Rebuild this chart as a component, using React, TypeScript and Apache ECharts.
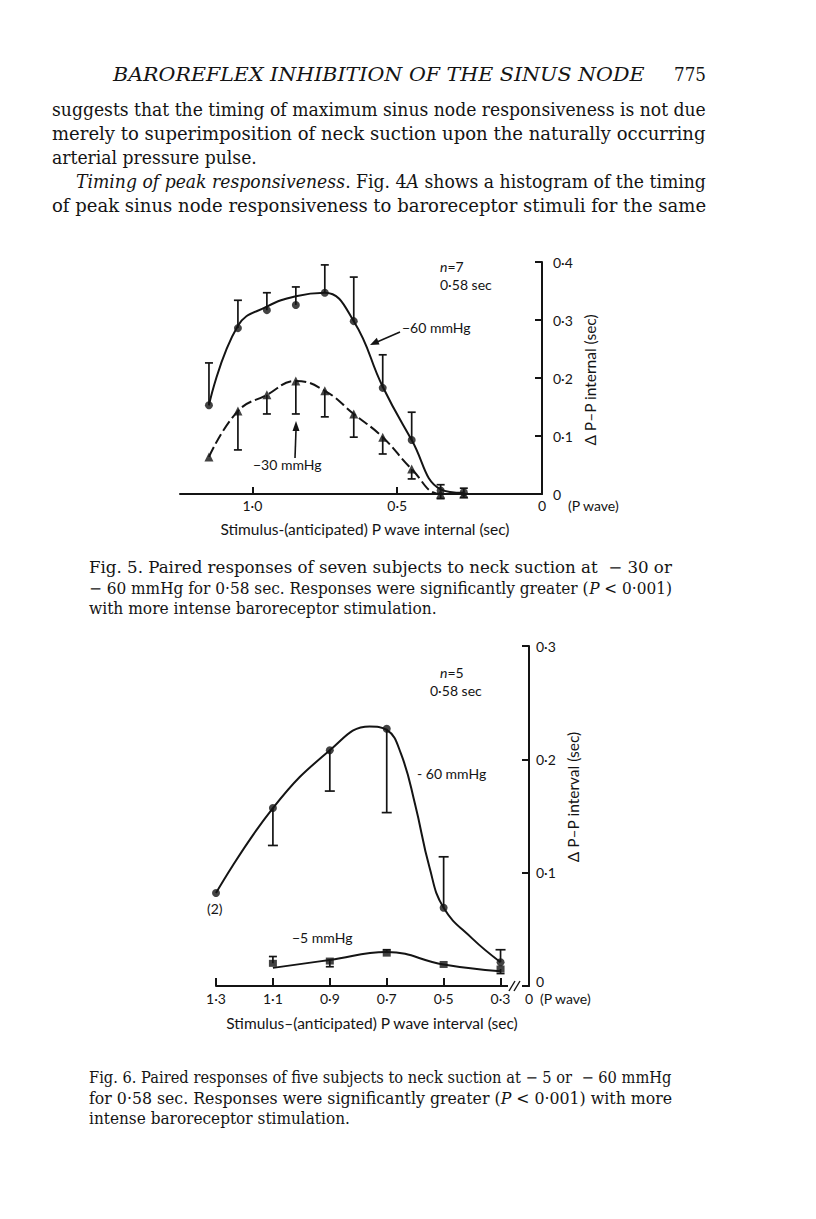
import React, { useEffect, useRef } from "react";
import * as echarts from "echarts";

// ---------- Fig. 5 data (x = stimulus–P wave interval, sec; y = Δ P–P interval, sec) ----------
const fig5X = [1.15, 1.05, 0.95, 0.85, 0.75, 0.65, 0.55, 0.45, 0.35, 0.27];
const fig5Neg60 = [0.153, 0.286, 0.317, 0.326, 0.347, 0.298, 0.183, 0.093, 0.006, 0.003];
const fig5Neg60Curve = [0.153, 0.29, 0.323, 0.341, 0.347, 0.298, 0.185, 0.093, 0.008, 0.002];
const fig5Neg60ErrEnd = [0.226, 0.334, 0.347, 0.357, 0.395, 0.374, 0.24, 0.141, 0.016, 0.01];
const fig5Neg30 = [0.064, 0.143, 0.171, 0.195, 0.178, 0.138, 0.098, 0.043, 0.0, 0.0];
const fig5Neg30ErrEnd = [null, 0.076, 0.138, 0.138, 0.133, 0.098, 0.069, 0.026, -0.008, -0.006];
const fig5XLabels = [0.5, 1.0];
const fig5XTicks = [0.5, 1.0];

// ---------- Fig. 6 data ----------
const fig6X = [1.3, 1.1, 0.9, 0.7, 0.5, 0.3];
const fig6Neg60 = [0.082, 0.157, 0.208, 0.227, 0.069, 0.021];
const fig6Neg60ErrEnd = [null, 0.124, 0.172, 0.153, 0.114, 0.032];
const fig6CurveX = [1.3, 1.1, 0.9, 0.76, 0.7, 0.65, 0.6, 0.55, 0.5, 0.4, 0.3];
const fig6Neg60Curve = [0.082, 0.157, 0.208, 0.229, 0.226, 0.205, 0.16, 0.105, 0.069, 0.042, 0.021];
const fig6X5 = [1.1, 0.9, 0.7, 0.5, 0.3];
const fig6Neg5 = [0.02, 0.022, 0.029, 0.019, 0.015];
const fig6Neg5Curve = [0.016, 0.023, 0.03, 0.019, 0.013];
const fig6Neg5ErrEnd = [0.026, 0.017, 0.032, null, 0.011];
const fig6XLabels = [1.3, 1.1, 0.9, 0.7, 0.5, 0.3, 0.2]; // 0.2 is the broken-axis position of "0"
const fig6XTicks = [1.3, 1.1, 0.9, 0.7, 0.5, 0.3];
const fig6BreakZero = 0.2;

const INK = "#141414";
const SERIF = '"DejaVu Serif", serif';
const SANS = 'Lato, "Open Sans", sans-serif';

type Seg = { t: string; i?: boolean };

let measureCtx: CanvasRenderingContext2D | null = null;
function measure(segs: Seg[], size: number, family: string): number {
  if (!measureCtx) measureCtx = document.createElement("canvas").getContext("2d");
  let w = 0;
  for (const s of segs) {
    measureCtx!.font = `${s.i ? "italic " : ""}${size}px ${family}`;
    w += measureCtx!.measureText(s.t).width;
  }
  return w;
}

function textLine(segs: Seg[], x: number, y: number, size: number, family: string, width?: number) {
  const natural = measure(segs, size, family);
  const sx = width ? width / natural : 1;
  const text = segs.map((s) => `{${s.i ? "i" : "n"}|${s.t}}`).join("");
  return {
    type: "text",
    x,
    y,
    scaleX: sx,
    z: 50,
    silent: true,
    style: {
      text,
      verticalAlign: "middle",
      rich: {
        i: { fontStyle: "italic", fontSize: size, fontFamily: family, fill: INK },
        n: { fontSize: size, fontFamily: family, fill: INK },
      },
    },
  };
}

function label(text: string, x: number, y: number, size = 14, opts: any = {}) {
  return {
    type: "text",
    x,
    y,
    z: 50,
    silent: true,
    rotation: opts.rotation || 0,
    style: {
      text,
      fontSize: size,
      fontFamily: SANS,
      fontStyle: opts.italic ? "italic" : "normal",
      fill: INK,
      align: opts.align || "left",
      verticalAlign: "middle",
      rich: opts.rich,
    },
  };
}

const fmt = (v: number) => (Math.abs(v) < 1e-9 ? "0" : v.toFixed(1).replace(".", "·"));
const fmt6 = (v: number) => (Math.abs(v - fig6BreakZero) < 1e-6 ? "0" : fmt(v));

function zip(xs: number[], ys: (number | null)[]) {
  return xs.map((x, i) => [x, ys[i]]);
}

function errData(xs: number[], vals: number[], ends: (number | null)[]) {
  const out: number[][] = [];
  xs.forEach((x, i) => {
    if (ends[i] !== null && ends[i] !== undefined) out.push([x, vals[i], ends[i] as number]);
  });
  return out;
}

function errSeries(axis: number, data: number[][], cap: number) {
  return {
    type: "custom",
    xAxisIndex: axis,
    yAxisIndex: axis,
    silent: true,
    z: 3,
    data,
    encode: { x: 0, y: [1, 2] },
    renderItem: (params: any, api: any) => {
      const x = api.value(0);
      const p0 = api.coord([x, api.value(1)]);
      const p1 = api.coord([x, api.value(2)]);
      const st = { stroke: INK, lineWidth: 1.7 };
      return {
        type: "group",
        children: [
          { type: "line", shape: { x1: p0[0], y1: p0[1], x2: p1[0], y2: p1[1] }, style: st },
          { type: "line", shape: { x1: p1[0] - cap, y1: p1[1], x2: p1[0] + cap, y2: p1[1] }, style: st },
        ],
      };
    },
  };
}

function curve(axis: number, xs: number[], ys: number[], dashed = false) {
  return {
    type: "line",
    xAxisIndex: axis,
    yAxisIndex: axis,
    data: zip(xs, ys),
    smooth: 0.45,
    showSymbol: false,
    clip: false,
    silent: true,
    z: 2,
    lineStyle: { color: INK, width: 2, type: dashed ? [11, 4] : "solid" },
  };
}

function markers(axis: number, xs: number[], ys: number[], symbol: string, size: any) {
  return {
    type: "scatter",
    xAxisIndex: axis,
    yAxisIndex: axis,
    data: zip(xs, ys),
    symbol,
    symbolSize: size,
    clip: false,
    silent: true,
    z: 4,
    itemStyle: { color: INK },
  };
}

function buildOption(): any {
  const axisLine = { show: true, lineStyle: { color: INK, width: 2 } };
  const labelStyle = { color: INK, fontFamily: SANS, fontSize: 14 };
  const italN = {
    i: { fontStyle: "italic", fontSize: 14, fontFamily: SANS, fill: INK },
    n: { fontSize: 14, fontFamily: SANS, fill: INK },
  };

  const graphic: any[] = [
    // running head
    textLine([{ t: "BAROREFLEX INHIBITION OF THE SINUS NODE", i: true }], 113, 75, 18, SERIF, 532),
    textLine([{ t: "775" }], 674, 75, 18, SERIF, 32),
    // body text
    textLine([{ t: "suggests that the timing of maximum sinus node responsiveness is not due" }], 52, 109, 19, SERIF, 654),
    textLine([{ t: "merely to superimposition of neck suction upon the naturally occurring" }], 52, 133, 19, SERIF, 654),
    textLine([{ t: "arterial pressure pulse." }], 52, 157, 19, SERIF, 205),
    textLine(
      [
        { t: "Timing of peak responsiveness", i: true },
        { t: ". Fig. 4" },
        { t: "A", i: true },
        { t: " shows a histogram of the timing" },
      ],
      76, 181, 19, SERIF, 630
    ),
    textLine([{ t: "of peak sinus node responsiveness to baroreceptor stimuli for the same" }], 52, 205, 19, SERIF, 654),

    // Fig. 5 caption
    textLine([{ t: "Fig. 5. Paired responses of seven subjects to neck suction at  − 30 or" }], 89, 568, 16, SERIF, 583),
    textLine(
      [{ t: "− 60 mmHg for 0·58 sec. Responses were significantly greater (" }, { t: "P", i: true }, { t: " < 0·001)" }],
      89, 588, 16, SERIF, 583
    ),
    textLine([{ t: "with more intense baroreceptor stimulation." }], 89, 608, 16, SERIF, 348),

    // Fig. 6 caption
    textLine([{ t: "Fig. 6. Paired responses of five subjects to neck suction at − 5 or  − 60 mmHg" }], 89, 1078, 16, SERIF, 583),
    textLine(
      [{ t: "for 0·58 sec. Responses were significantly greater (" }, { t: "P", i: true }, { t: " < 0·001) with more" }],
      89, 1098, 16, SERIF, 583
    ),
    textLine([{ t: "intense baroreceptor stimulation." }], 89, 1118, 16, SERIF, 261),

    // ---- Fig. 5 annotations ----
    label("{i|n}{n|=7}", 440, 266, 14, { rich: italN }),
    label("0·58 sec", 440, 284),
    label("−60 mmHg", 402, 327),
    label("−30 mmHg", 253, 464),
    label("0", 542, 505, 14, { align: "center" }),
    label("(P wave)", 568, 505),
    label("Stimulus-(anticipated) P wave internal (sec)", 365, 529, 15.5, { align: "center" }),
    label("Δ P–P internal (sec)", 590, 380, 15.5, { align: "center", rotation: Math.PI / 2 }),
    { type: "line", z: 50, silent: true, shape: { x1: 400, y1: 332, x2: 377, y2: 342 }, style: { stroke: INK, lineWidth: 1.6 } },
    { type: "polygon", z: 50, silent: true, shape: { points: [[370, 345], [379.5, 344.5], [376.8, 337.8]] }, style: { fill: INK } },
    { type: "line", z: 50, silent: true, shape: { x1: 295, y1: 458, x2: 296, y2: 430 }, style: { stroke: INK, lineWidth: 1.6 } },
    { type: "polygon", z: 50, silent: true, shape: { points: [[296, 421], [292.5, 431], [299.5, 431]] }, style: { fill: INK } },

    // ---- Fig. 6 annotations ----
    label("{i|n}{n|=5}", 440, 672, 14, { rich: italN }),
    label("0·58 sec", 430, 690),
    label("- 60 mmHg", 417, 773),
    label("(2)", 207, 908),
    label("−5 mmHg", 292, 937),
    label("0", 536, 981),
    label("(P wave)", 540, 998),
    label("Stimulus–(anticipated) P wave interval (sec)", 372, 1023, 15.5, { align: "center" }),
    label("Δ P–P interval (sec)", 573, 797, 15.5, { align: "center", rotation: Math.PI / 2 }),
    // axis break
    { type: "rect", z: 40, silent: true, shape: { x: 508, y: 980, width: 14, height: 12 }, style: { fill: "#fff" } },
    { type: "line", z: 50, silent: true, shape: { x1: 509, y1: 991, x2: 515, y2: 981 }, style: { stroke: INK, lineWidth: 1.4 } },
    { type: "line", z: 50, silent: true, shape: { x1: 514, y1: 991, x2: 520, y2: 981 }, style: { stroke: INK, lineWidth: 1.4 } },
  ];

  return {
    animation: false,
    backgroundColor: "#ffffff",
    grid: [
      { left: 180, top: 262, width: 362, height: 232 },
      { left: 216, top: 646, width: 313, height: 340 },
    ],
    xAxis: [
      {
        gridIndex: 0,
        type: "value",
        min: 0,
        max: 1.25,
        inverse: true,
        axisLine,
        splitLine: { show: false },
        axisTick: { show: true, inside: true, length: 7, customValues: fig5XTicks, lineStyle: { color: INK, width: 2 } },
        axisLabel: { show: true, customValues: fig5XLabels, formatter: fmt, margin: 4, ...labelStyle },
      },
      {
        gridIndex: 1,
        type: "value",
        min: 0.2,
        max: 1.3,
        inverse: true,
        axisLine,
        splitLine: { show: false },
        axisTick: { show: true, inside: true, length: 8, customValues: fig6XTicks, lineStyle: { color: INK, width: 2 } },
        axisLabel: { show: true, customValues: fig6XLabels, formatter: fmt6, margin: 5, ...labelStyle },
      },
    ],
    yAxis: [
      {
        gridIndex: 0,
        type: "value",
        position: "right",
        min: 0,
        max: 0.4,
        interval: 0.1,
        axisLine,
        splitLine: { show: false },
        axisTick: { show: true, inside: true, length: 7, lineStyle: { color: INK, width: 2 } },
        axisLabel: { formatter: fmt, margin: 11, ...labelStyle },
      },
      {
        gridIndex: 1,
        type: "value",
        position: "right",
        min: 0,
        max: 0.3,
        interval: 0.1,
        axisLine,
        splitLine: { show: false },
        axisTick: { show: true, inside: true, length: 7, lineStyle: { color: INK, width: 2 } },
        axisLabel: { formatter: (v: number) => (v === 0 ? "" : fmt(v)), margin: 7, ...labelStyle },
      },
    ],
    series: [
      curve(0, fig5X, fig5Neg60Curve),
      errSeries(0, errData(fig5X, fig5Neg60, fig5Neg60ErrEnd), 4),
      markers(0, fig5X, fig5Neg60, "circle", 8),
      curve(0, fig5X, fig5Neg30, true),
      errSeries(0, errData(fig5X, fig5Neg30, fig5Neg30ErrEnd), 4),
      markers(0, fig5X, fig5Neg30, "triangle", 9),

      curve(1, fig6CurveX, fig6Neg60Curve),
      errSeries(1, errData(fig6X, fig6Neg60, fig6Neg60ErrEnd), 5),
      markers(1, fig6X, fig6Neg60, "circle", 8),
      curve(1, fig6X5, fig6Neg5Curve),
      errSeries(1, errData(fig6X5, fig6Neg5, fig6Neg5ErrEnd), 4),
      markers(1, fig6X5, fig6Neg5, "rect", [8, 7]),
    ],
    graphic,
  };
}

export default function App() {
  const ref = useRef<HTMLDivElement>(null);
  useEffect(() => {
    if (!ref.current) return;
    const chart = echarts.init(ref.current, null, { renderer: "svg" });
    chart.setOption(buildOption());
    return () => chart.dispose();
  }, []);
  return (
    <div
      ref={ref}
      style={{ position: "absolute", left: 0, top: 0, width: 816, height: 1219, background: "#ffffff" }}
    />
  );
}
